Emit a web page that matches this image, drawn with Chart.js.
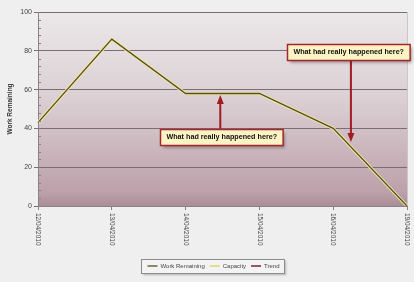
<!DOCTYPE html>
<html>
<head>
<meta charset="utf-8">
<script src="https://cdn.jsdelivr.net/npm/chart.js@4.4.0/dist/chart.umd.min.js"></script>
<style>
  html, body { margin: 0; padding: 0; background: #efefef; }
  #wrap { width: 414px; height: 282px; }
</style>
</head>
<body>
<div id="wrap"><canvas id="burndown" width="414" height="282"></canvas></div>
<script>
// data
const dates = ['12/04/2010', '13/04/2010', '14/04/2010', '15/04/2010', '16/04/2010', '19/04/2010'];
const workRemaining = [43, 86, 58, 58, 40, 0];
const capacity = [];
const trend = [];
const yMax = 100;
const yStep = 20;
const yMinorStep = 4;

// callouts (in chart units: category index / work value)
const noteText = ['What had really happened here?', 'What had really happened here?'];
const noteBoxX = [2.49, 4.21];
const noteBoxY = [35.8, 79.6];
const noteArrowX = [2.47, 4.24];
const noteArrowTip = [57.2, 33];

const olive = '#574c1f';
const glow = '#eee8a2';

// gradient plot area + legend frame
const backdrop = {
    id: 'backdrop',
    afterLayout(chart) {
        // legend sits a little right of centre in the original
        chart.legend.left += 8;
        chart.legend.right += 8;
    },
    beforeDraw(chart) {
        const {ctx, chartArea: a} = chart;
        ctx.save();
        const g = ctx.createLinearGradient(0, a.top, 0, a.bottom);
        g.addColorStop(0, '#ebe8ea');
        g.addColorStop(0.45, '#dbcfd3');
        g.addColorStop(0.93, '#bca0aa');
        g.addColorStop(1, '#a98d97');
        ctx.fillStyle = g;
        ctx.fillRect(a.left, a.top, a.right - a.left, a.bottom - a.top);
        ctx.strokeStyle = '#cdc6c9';
        ctx.beginPath();
        ctx.moveTo(a.right + 0.5, a.top);
        ctx.lineTo(a.right + 0.5, a.bottom);
        ctx.stroke();

        // legend frame
        const boxes = chart.legend.legendHitBoxes;
        if (boxes && boxes.length) {
            const l = Math.min(...boxes.map(b => b.left)) - 6;
            const r = Math.max(...boxes.map(b => b.left + b.width)) + 5;
            const t = Math.min(...boxes.map(b => b.top)) - 4;
            const btm = Math.max(...boxes.map(b => b.top + b.height)) + 4;
            ctx.shadowColor = 'rgba(0,0,0,0.25)';
            ctx.shadowBlur = 2;
            ctx.shadowOffsetX = 1;
            ctx.shadowOffsetY = 1;
            ctx.fillStyle = '#f3f3f3';
            ctx.fillRect(Math.round(l) + 0.5, Math.round(t) + 0.5, Math.round(r - l), Math.round(btm - t));
            ctx.shadowColor = 'transparent';
            ctx.strokeStyle = '#8c8c8c';
            ctx.lineWidth = 1;
            ctx.strokeRect(Math.round(l) + 0.5, Math.round(t) + 0.5, Math.round(r - l), Math.round(btm - t));
        }
        ctx.restore();
    }
};

// minor y ticks and rotated date labels
const axisExtras = {
    id: 'axisExtras',
    afterDraw(chart) {
        const {ctx, scales: {x, y}} = chart;
        ctx.save();
        ctx.strokeStyle = '#8a8286';
        ctx.lineWidth = 1;
        for (let v = 0; v <= yMax; v += yMinorStep) {
            if (v % yStep === 0) continue;
            const py = Math.round(y.getPixelForValue(v)) + 0.5;
            ctx.beginPath();
            ctx.moveTo(x.left, py);
            ctx.lineTo(x.left + 3, py);
            ctx.stroke();
        }
        ctx.fillStyle = '#444';
        ctx.font = '6.5px Arial, "Liberation Sans", sans-serif';
        ctx.textAlign = 'left';
        ctx.textBaseline = 'middle';
        dates.forEach((d, i) => {
            const px = x.getPixelForTick(i);
            ctx.save();
            ctx.translate(px, y.bottom + 7);
            ctx.rotate(Math.PI / 2);
            ctx.fillText(d, 0, 0);
            ctx.restore();
        });
        ctx.restore();
    }
};

// callout boxes with arrows
const callouts = {
    id: 'callouts',
    afterDatasetsDraw(chart) {
        const {ctx, scales: {x, y}} = chart;
        ctx.save();
        ctx.font = 'bold 7.2px Arial, "Liberation Sans", sans-serif';
        noteText.forEach((txt, i) => {
            const w = ctx.measureText(txt).width + 12;
            const h = 16;
            const cx = x.getPixelForValue(noteBoxX[i]);
            const cy = y.getPixelForValue(noteBoxY[i]);
            const ax = x.getPixelForValue(noteArrowX[i]);
            const tip = y.getPixelForValue(noteArrowTip[i]);
            const dir = tip < cy ? -1 : 1;
            const start = cy + dir * h / 2;

            // arrow
            ctx.strokeStyle = '#a01b22';
            ctx.fillStyle = '#a01b22';
            ctx.lineWidth = 2;
            ctx.beginPath();
            ctx.moveTo(ax, start);
            ctx.lineTo(ax, tip - dir * 7);
            ctx.stroke();
            ctx.beginPath();
            ctx.moveTo(ax, tip);
            ctx.lineTo(ax - 3.5, tip - dir * 9);
            ctx.lineTo(ax + 3.5, tip - dir * 9);
            ctx.closePath();
            ctx.fill();

            // box
            const bx = Math.round(cx - w / 2) + 0.5;
            const by = Math.round(cy - h / 2) + 0.5;
            ctx.shadowColor = 'rgba(40,20,20,0.45)';
            ctx.shadowBlur = 3;
            ctx.shadowOffsetX = 2;
            ctx.shadowOffsetY = 2;
            ctx.fillStyle = '#fbf3c4';
            ctx.fillRect(bx, by, w, h);
            ctx.shadowColor = 'transparent';
            ctx.strokeStyle = '#a5262c';
            ctx.lineWidth = 1.5;
            ctx.strokeRect(bx, by, w, h);

            ctx.fillStyle = '#111';
            ctx.textAlign = 'center';
            ctx.textBaseline = 'middle';
            ctx.fillText(txt, cx, cy + 0.5);
        });
        ctx.restore();
    }
};

const ctx = document.getElementById('burndown').getContext('2d');
const chart = new Chart(ctx, {
    type: 'line',
    data: {
        labels: dates,
        datasets: [{
            label: 'Work Remaining',
            data: workRemaining,
            borderColor: olive,
            borderWidth: 1.3,
            pointRadius: 0,
            tension: 0,
        },
        {
            label: 'Capacity',
            data: capacity,
            borderColor: '#e2d26a',
            borderDash: [2, 1.5],
            borderWidth: 1.5,
            pointRadius: 0,
        },
        {
            label: 'Trend',
            data: trend,
            borderColor: '#6e2a30',
            borderWidth: 1.5,
            pointRadius: 0,
        },
        {
            // light halo under the work line
            label: 'glow',
            data: workRemaining,
            borderColor: glow,
            borderWidth: 3.2,
            pointRadius: 0,
            tension: 0,
        }]
    },
    options: {
        responsive: false,
        animation: false,
        events: [],
        layout: { padding: { left: 4, right: 7, top: 12, bottom: 3 } },
        scales: {
            x: {
                offset: false,
                grid: { drawOnChartArea: false, color: '#8a8286', tickLength: 4 },
                border: { color: '#8a8286' },
                ticks: { display: false },
                afterFit: s => { s.height = 52; }
            },
            y: {
                min: 0,
                max: yMax,
                ticks: {
                    stepSize: yStep,
                    color: '#444',
                    padding: 2,
                    font: { size: 7, family: 'Arial, "Liberation Sans", sans-serif' }
                },
                grid: { color: '#7a6e73', tickLength: 4 },
                border: { color: '#8a8286' },
                title: {
                    display: true,
                    text: 'Work Remaining',
                    color: '#333',
                    padding: { top: 2, bottom: 0 },
                    font: { size: 6.5, weight: 'bold', family: 'Arial, "Liberation Sans", sans-serif' }
                },
                afterFit: s => { s.width = 34; }
            }
        },
        plugins: {
            legend: {
                position: 'bottom',
                labels: {
                    filter: item => item.text !== 'glow',
                    usePointStyle: true,
                    pointStyle: 'line',
                    pointStyleWidth: 10,
                    boxHeight: 6,
                    padding: 5,
                    color: '#444',
                    font: { size: 6, family: 'Arial, "Liberation Sans", sans-serif' }
                }
            },
            tooltip: { enabled: false }
        }
    },
    plugins: [backdrop, axisExtras, callouts]
});
</script>
</body>
</html>
